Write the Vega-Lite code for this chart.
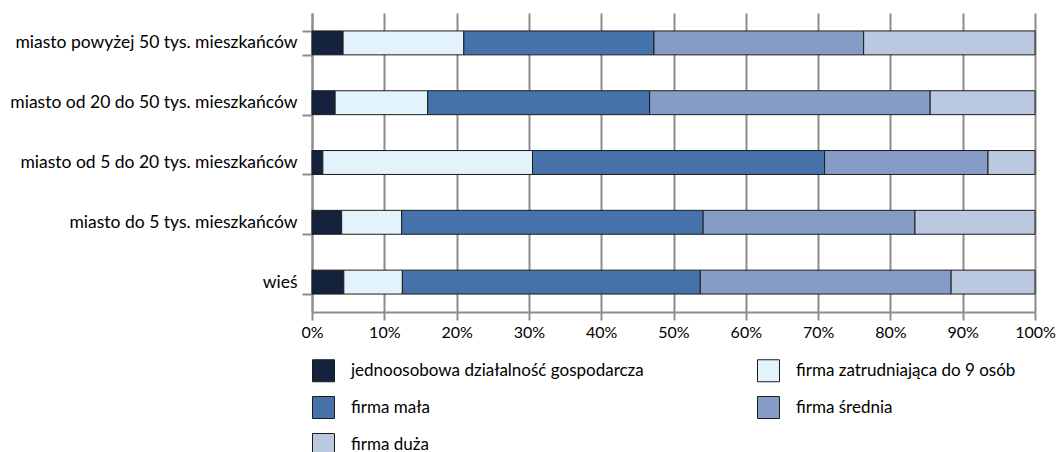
{
  "$schema": "https://vega.github.io/schema/vega-lite/v6.json",
  "width": 723,
  "height": 299,
  "autosize": {"type": "none"},
  "padding": {"left": 312, "top": 13, "right": 24, "bottom": 140},
  "background": "white",
  "config": {
    "view": {"stroke": null},
    "font": "Lato",
    "axis": {"labelFont": "Lato", "labelColor": "#000000"}
  },
  "data": {
    "values": [
      {"miejsce": "miasto powyżej 50 tys. mieszkańców", "typ": "jednoosobowa działalność gospodarcza", "n": 1, "udzial": 4.3},
      {"miejsce": "miasto powyżej 50 tys. mieszkańców", "typ": "firma zatrudniająca do 9 osób", "n": 2, "udzial": 16.7},
      {"miejsce": "miasto powyżej 50 tys. mieszkańców", "typ": "firma  mała", "n": 3, "udzial": 26.3},
      {"miejsce": "miasto powyżej 50 tys. mieszkańców", "typ": "firma średnia", "n": 4, "udzial": 29.0},
      {"miejsce": "miasto powyżej 50 tys. mieszkańców", "typ": "firma duża", "n": 5, "udzial": 23.7},
      {"miejsce": "miasto od 20 do 50 tys. mieszkańców", "typ": "jednoosobowa działalność gospodarcza", "n": 1, "udzial": 3.2},
      {"miejsce": "miasto od 20 do 50 tys. mieszkańców", "typ": "firma zatrudniająca do 9 osób", "n": 2, "udzial": 12.8},
      {"miejsce": "miasto od 20 do 50 tys. mieszkańców", "typ": "firma  mała", "n": 3, "udzial": 30.7},
      {"miejsce": "miasto od 20 do 50 tys. mieszkańców", "typ": "firma średnia", "n": 4, "udzial": 38.8},
      {"miejsce": "miasto od 20 do 50 tys. mieszkańców", "typ": "firma duża", "n": 5, "udzial": 14.5},
      {"miejsce": "miasto od 5 do 20 tys. mieszkańców", "typ": "jednoosobowa działalność gospodarcza", "n": 1, "udzial": 1.5},
      {"miejsce": "miasto od 5 do 20 tys. mieszkańców", "typ": "firma zatrudniająca do 9 osób", "n": 2, "udzial": 29.0},
      {"miejsce": "miasto od 5 do 20 tys. mieszkańców", "typ": "firma  mała", "n": 3, "udzial": 40.4},
      {"miejsce": "miasto od 5 do 20 tys. mieszkańców", "typ": "firma średnia", "n": 4, "udzial": 22.6},
      {"miejsce": "miasto od 5 do 20 tys. mieszkańców", "typ": "firma duża", "n": 5, "udzial": 6.5},
      {"miejsce": "miasto do 5 tys. mieszkańców", "typ": "jednoosobowa działalność gospodarcza", "n": 1, "udzial": 4.1},
      {"miejsce": "miasto do 5 tys. mieszkańców", "typ": "firma zatrudniająca do 9 osób", "n": 2, "udzial": 8.3},
      {"miejsce": "miasto do 5 tys. mieszkańców", "typ": "firma  mała", "n": 3, "udzial": 41.7},
      {"miejsce": "miasto do 5 tys. mieszkańców", "typ": "firma średnia", "n": 4, "udzial": 29.3},
      {"miejsce": "miasto do 5 tys. mieszkańców", "typ": "firma duża", "n": 5, "udzial": 16.6},
      {"miejsce": "wieś", "typ": "jednoosobowa działalność gospodarcza", "n": 1, "udzial": 4.4},
      {"miejsce": "wieś", "typ": "firma zatrudniająca do 9 osób", "n": 2, "udzial": 8.1},
      {"miejsce": "wieś", "typ": "firma  mała", "n": 3, "udzial": 41.2},
      {"miejsce": "wieś", "typ": "firma średnia", "n": 4, "udzial": 34.7},
      {"miejsce": "wieś", "typ": "firma duża", "n": 5, "udzial": 11.6}
    ]
  },
  "mark": {"type": "bar", "stroke": "#1c1c1c", "strokeWidth": 1},
  "encoding": {
    "y": {
      "field": "miejsce",
      "type": "nominal",
      "sort": ["miasto powyżej 50 tys. mieszkańców", "miasto od 20 do 50 tys. mieszkańców", "miasto od 5 do 20 tys. mieszkańców", "miasto do 5 tys. mieszkańców", "wieś"],
      "scale": {"paddingInner": 0.6, "paddingOuter": 0.3},
      "axis": {
        "title": null,
        "tickBand": "extent",
        "domainColor": "#8c8c8c",
        "domainWidth": 2,
        "tickColor": "#8c8c8c",
        "tickWidth": 2,
        "tickSize": 10,
        "labelFontSize": 17.5,
        "labelPadding": 5,
        "labelLimit": 400
      }
    },
    "x": {
      "field": "udzial",
      "type": "quantitative",
      "stack": "normalize",
      "scale": {"domain": [0, 1], "nice": false},
      "axis": {
        "title": null,
        "format": ".0%",
        "values": [0, 0.1, 0.2, 0.3, 0.4, 0.5, 0.6, 0.7, 0.8, 0.9, 1],
        "grid": true,
        "gridColor": "#8c8c8c",
        "gridWidth": 2,
        "domainColor": "#8c8c8c",
        "domainWidth": 2,
        "tickColor": "#8c8c8c",
        "tickWidth": 2,
        "tickSize": 8,
        "labelFontSize": 16,
        "labelPadding": 4,
        "labelFlush": false
      }
    },
    "order": {"field": "n", "type": "quantitative"},
    "color": {
      "field": "typ",
      "type": "nominal",
      "scale": {
        "domain": ["jednoosobowa działalność gospodarcza", "firma  mała", "firma duża", "firma zatrudniająca do 9 osób", "firma średnia"],
        "range": ["#15223d", "#4572a8", "#bac8e0", "#e3f3fb", "#859dc6"]
      },
      "legend": {
        "title": null,
        "orient": "none",
        "legendX": 0,
        "legendY": 346,
        "columns": 2,
        "columnPadding": 111,
        "rowPadding": 10,
        "symbolType": "square",
        "symbolSize": 484,
        "symbolStrokeColor": "#1c1c1c",
        "symbolStrokeWidth": 1,
        "symbolOpacity": 1,
        "labelFont": "Lato",
        "labelFontSize": 17,
        "labelOffset": 16,
        "labelLimit": 400,
        "labelColor": "#000000"
      }
    }
  }
}
